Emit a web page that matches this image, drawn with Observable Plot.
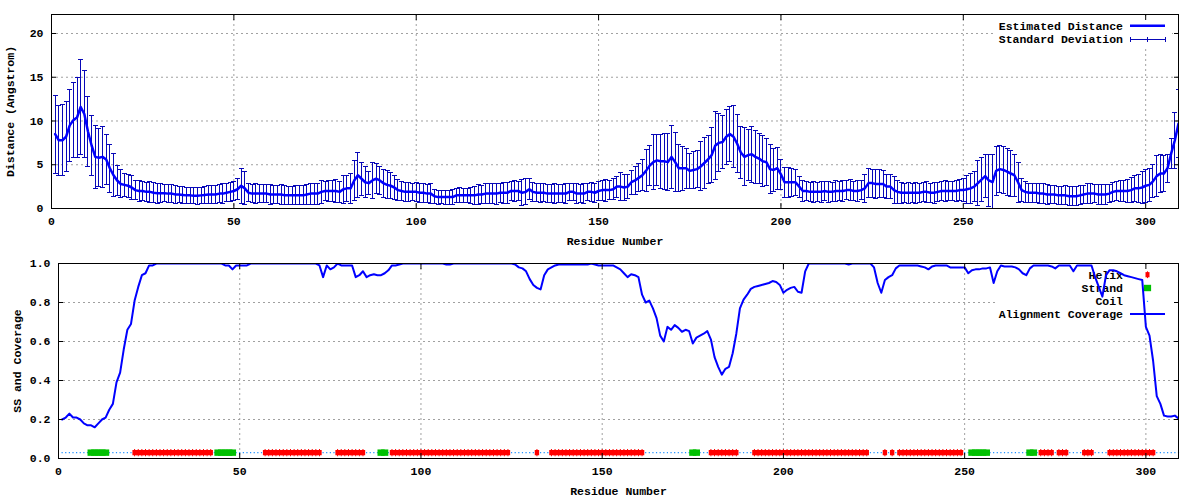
<!DOCTYPE html>
<html><head><meta charset="utf-8">
<script src="https://cdn.jsdelivr.net/npm/d3@7"></script>
<script src="https://cdn.jsdelivr.net/npm/@observablehq/plot@0.6"></script>
<style>
body{margin:0;background:#fff;}
#chart svg{display:block;}
</style></head><body><div id="chart"></div>
<script>
// ---------------- DATA ----------------
// Estimated distance (Angstrom) per residue 1..309
const dist = [
 8.5,7.8,7.8,8.2,9.5,10.1,10.4,11.6,10.8,8.8,
 7.2,5.9,5.8,5.9,5.6,4.6,3.8,3.2,2.8,2.7,
 2.6,2.4,2.1,2.0,2.0,1.9,1.9,1.8,1.75,1.75,
 1.75,1.7,1.7,1.6,1.6,1.55,1.5,1.5,1.45,1.45,
 1.5,1.55,1.6,1.6,1.6,1.7,1.7,1.8,1.9,2.0,
 2.2,2.6,2.3,1.8,1.7,1.7,1.7,1.7,1.7,1.6,
 1.6,1.6,1.6,1.5,1.5,1.5,1.5,1.5,1.5,1.6,
 1.7,1.7,1.7,1.9,2.0,2.0,2.0,2.0,1.9,2.2,
 2.3,2.3,3.2,3.8,3.4,3.0,2.9,3.2,3.4,3.2,
 2.9,2.7,2.6,2.4,2.1,2.0,1.9,1.9,1.9,1.9,
 1.8,1.8,1.7,1.7,1.4,1.3,1.3,1.3,1.3,1.3,
 1.5,1.5,1.5,1.5,1.5,1.5,1.6,1.6,1.7,1.7,
 1.7,1.7,1.8,1.8,1.8,2.0,2.0,2.0,1.8,1.9,
 2.2,1.9,1.8,1.8,1.8,1.7,1.7,1.7,1.7,1.7,
 1.7,1.9,1.9,1.7,1.7,1.7,1.9,1.9,1.8,2.0,
 2.1,2.1,2.1,2.2,2.5,2.5,2.4,2.5,3.0,3.2,
 3.5,3.8,4.3,4.9,5.3,5.5,5.4,5.4,5.3,5.9,
 5.3,4.6,4.6,4.6,4.3,4.4,4.5,4.8,5.2,5.6,
 6.1,7.2,7.5,7.6,8.2,8.5,8.2,7.4,6.4,5.9,
 6.1,6.2,5.9,5.7,5.4,5.3,4.5,4.4,4.6,3.9,
 3.0,3.0,3.0,3.0,2.5,2.0,2.0,1.9,1.9,1.9,
 1.9,2.0,1.9,1.9,2.0,2.0,2.0,2.1,2.1,2.0,
 2.0,2.1,2.3,2.9,2.9,2.8,2.8,2.8,2.5,2.5,
 2.1,1.9,1.8,1.8,1.8,1.8,1.8,1.8,1.9,1.9,
 1.8,1.8,1.9,2.0,2.0,2.0,2.0,2.0,2.1,2.1,
 2.2,2.3,2.5,2.9,3.3,3.7,3.2,3.0,4.3,4.5,
 4.4,4.2,4.0,3.8,3.0,2.1,1.9,1.8,1.8,1.8,
 1.7,1.7,1.6,1.6,1.6,1.5,1.5,1.5,1.4,1.4,
 1.4,1.5,1.6,1.7,1.7,1.7,1.6,1.6,1.6,1.7,
 1.9,2.0,2.0,2.0,2.0,2.1,2.3,2.3,2.4,2.6,
 2.7,3.1,3.7,4.0,4.0,4.6,6.3,7.8,9.7
];
// Standard deviation per residue
const stdev = [
 4.45,4.0,4.05,4.0,4.15,4.3,4.55,5.4,5.0,4.0,
 3.4,3.6,3.3,3.5,2.9,2.75,2.45,1.7,1.6,1.3,
 1.3,1.35,1.05,1.2,1.05,1.05,1.2,1.15,1.15,1.1,
 1.0,1.05,1.0,1.05,0.95,0.95,0.9,0.95,0.9,0.95,
 0.9,0.95,1.0,1.0,1.05,1.0,1.1,1.05,1.1,1.1,
 1.2,2.0,1.9,1.0,1.0,1.1,1.0,1.0,1.0,1.1,
 1.0,1.0,1.1,1.1,1.0,1.0,1.1,1.1,1.1,1.1,
 1.2,1.2,1.2,1.3,1.1,1.2,1.2,1.3,1.2,1.6,
 1.5,1.7,2.3,2.6,1.9,1.8,1.3,2.1,1.7,1.6,
 1.6,1.6,1.5,1.4,1.2,1.1,1.1,1.1,1.0,1.1,
 1.1,1.1,1.0,1.1,0.8,0.8,0.75,0.8,0.8,0.85,
 0.8,0.85,0.8,0.8,0.9,1.0,1.1,1.0,1.1,1.1,
 1.1,1.2,1.1,1.2,1.2,1.1,1.2,1.1,1.5,1.5,
 1.2,1.1,1.0,1.1,1.0,1.0,1.0,1.1,1.0,1.0,
 1.1,1.0,1.0,1.1,1.0,1.1,1.0,1.1,1.1,1.1,
 1.15,1.25,1.1,1.2,1.2,1.6,1.5,1.35,1.35,1.6,
 1.6,1.75,2.4,2.3,3.1,2.9,3.1,3.2,3.3,3.6,
 3.35,2.7,2.5,2.3,2.0,2.1,2.1,2.8,2.9,2.7,
 3.1,3.9,3.3,3.0,3.15,3.15,3.55,3.3,3.0,3.3,
 2.9,3.2,3.0,2.9,2.9,2.7,2.8,2.5,2.4,1.7,
 1.7,1.7,1.6,1.5,1.2,1.2,1.1,1.1,1.2,1.1,
 1.2,1.1,1.2,1.1,1.2,1.1,1.2,1.1,1.2,1.1,
 1.2,1.1,1.6,1.7,1.6,1.7,1.6,1.5,1.4,1.4,
 1.5,1.3,1.2,1.1,1.2,1.1,1.2,1.1,1.1,1.2,
 1.1,1.2,1.1,1.1,1.2,1.1,1.1,1.2,1.2,1.3,
 1.6,1.7,1.7,2.6,2.5,2.5,3.0,3.2,2.8,2.7,
 2.7,2.7,2.6,2.4,2.3,1.3,1.2,1.1,1.1,1.1,
 1.1,1.1,1.1,1.0,1.0,1.0,1.0,1.1,1.1,1.1,
 1.1,1.1,1.0,1.1,1.1,1.0,1.1,1.1,1.1,1.0,
 1.1,1.1,1.2,1.2,1.3,1.4,1.5,1.6,1.8,1.9,
 1.9,1.9,2.3,2.2,2.1,1.6,1.75,3.2,3.9
];
// Alignment coverage per residue
const coverage = [
 0.20,0.21,0.23,0.21,0.21,0.20,0.18,0.17,0.17,0.16,
 0.18,0.20,0.21,0.25,0.28,0.39,0.44,0.56,0.66,0.69,
 0.81,0.88,0.94,0.95,0.99,0.99,1.0,1.0,1.0,1.0,
 1.0,1.0,1.0,1.0,1.0,1.0,1.0,1.0,1.0,1.0,
 1.0,1.0,1.0,1.0,1.0,0.99,0.99,0.97,0.99,0.99,
 0.99,0.99,1.0,1.0,1.0,1.0,1.0,1.0,1.0,1.0,
 1.0,1.0,1.0,1.0,1.0,1.0,1.0,1.0,1.0,1.0,
 1.0,0.99,0.93,0.99,0.97,0.98,1.0,0.99,0.99,0.99,
 0.99,0.93,0.94,0.96,0.93,0.94,0.945,0.94,0.94,0.95,
 0.965,0.99,0.99,0.995,1.0,1.0,1.0,1.0,1.0,1.0,
 1.0,1.0,1.0,1.0,1.0,1.0,0.995,0.995,1.0,1.0,
 1.0,1.0,1.0,1.0,1.0,1.0,1.0,1.0,1.0,1.0,
 1.0,1.0,1.0,1.0,1.0,0.995,0.98,0.975,0.96,0.92,
 0.89,0.875,0.867,0.94,0.97,0.98,0.99,0.995,0.995,0.995,
 0.995,0.995,0.995,0.995,0.995,0.995,1.0,0.995,0.99,0.99,
 0.99,0.99,0.99,0.98,0.97,0.95,0.93,0.945,0.94,0.93,
 0.84,0.80,0.81,0.77,0.72,0.63,0.60,0.675,0.66,0.684,
 0.67,0.65,0.66,0.653,0.59,0.62,0.63,0.64,0.653,0.61,
 0.52,0.47,0.43,0.46,0.47,0.54,0.64,0.77,0.815,0.84,
 0.87,0.88,0.885,0.89,0.895,0.90,0.91,0.905,0.89,0.85,
 0.865,0.875,0.88,0.855,0.85,0.96,1.0,1.0,1.0,1.0,
 1.0,1.0,1.0,1.0,1.0,1.0,1.0,0.995,1.0,1.0,
 1.0,1.0,1.0,1.0,0.98,0.90,0.85,0.915,0.93,0.94,
 0.975,0.99,0.99,0.99,0.99,0.99,0.99,0.985,0.98,0.97,
 0.985,0.99,0.99,0.99,0.99,0.98,0.98,0.98,0.98,0.98,
 0.95,0.965,0.97,0.97,0.975,0.975,0.98,0.90,0.96,0.99,
 0.985,0.985,0.985,0.98,0.97,0.95,0.94,0.975,0.99,0.99,
 0.99,0.99,0.99,0.985,0.975,0.99,0.99,0.99,0.99,0.96,
 0.99,0.99,0.99,0.99,0.99,0.93,0.88,0.83,0.94,0.966,
 0.965,0.96,0.95,0.94,0.935,0.93,0.925,0.92,0.915,0.675,
 0.63,0.50,0.32,0.28,0.22,0.215,0.215,0.22,0.205
];
// Secondary structure segments [first residue, last residue]
const helixSegments = [[21,42],[57,72],[77,84],[92,124],[132,132],[136,161],[180,187],[192,223],[228,228],[230,230],[232,249],[271,274],[276,278],[283,285],[290,302]];
const strandSegments = [[9,13],[44,48],[89,90],[175,176],[252,256],[268,269]];
const ssLevel = 0.03;

// Axis ticks and texts
const xTicks = [0, 50, 100, 150, 200, 250, 300];
const yTicksTop = [0, 5, 10, 15, 20];
const yTicksBottom = [0, 0.2, 0.4, 0.6, 0.8, 1];
const xDomain = [0, 309];
const yDomainTop = [0, 22.17];
const yDomainBottom = [0, 1];
const xLabel = "Residue Number";
const yLabelTop = "Distance (Angstrom)";
const yLabelBottom = "SS and Coverage";
const legendTop = ["Estimated Distance", "Standard Deviation"];
const legendBottom = ["Helix", "Strand", "Coil", "Alignment Coverage"];

// ---------------- STYLE ----------------
const FONT = "'Liberation Mono','DejaVu Sans Mono',monospace";
const BLUE = "#0000ff", NAVY = "#0808b8", GRID = "#a0a0a0";
const RED = "#ff0000", GREEN = "#00c000", COIL = "#1e90ff";

const residues = dist.map((_, i) => i + 1);
const rows = residues.map((r, i) => ({r, d: dist[i], sd: stdev[i], cov: coverage[i]}));
const inSeg = (segs, r) => segs.some(([a, b]) => r >= a && r <= b);
const ssRows = residues.map(r => ({r, y: ssLevel, t: inSeg(helixSegments, r) ? "H" : inSeg(strandSegments, r) ? "E" : "C"}));

const capSymbol = {draw(ctx) { ctx.moveTo(-2.5, 0); ctx.lineTo(2.5, 0); }};
const helixSymbol = {draw(ctx) { ctx.rect(-2.2, -2.6, 4.4, 5.2); ctx.rect(-0.5, -3.6, 1, 7.2); }};
const strandSymbol = {draw(ctx) { ctx.rect(-3.6, -3.2, 7.2, 6.4); }};
const coilSymbol = {draw(ctx) { ctx.rect(-0.6, -0.6, 1.2, 1.2); }};

const baseStyle = {fontFamily: FONT, fontSize: "11.5px", fontWeight: "bold", color: "#000", background: "#fff"};
const gridOpts = {stroke: GRID, strokeOpacity: 1, strokeDasharray: "2,3"};

function axesMarks(yTicks, yLabel) {
  return [
    Plot.frame({stroke: "#000"}),
    Plot.axisX(xTicks, {anchor: "bottom", tickSize: 0, tickPadding: 8, label: xLabel, labelAnchor: "center", labelArrow: "none", labelOffset: 36}),
    Plot.axisX(xTicks, {anchor: "bottom", tickSize: -5, fill: "none", label: null}),
    Plot.axisX(xTicks, {anchor: "top", tickSize: -5, fill: "none", label: null}),
    Plot.axisY(yTicks, {anchor: "left", tickSize: 0, tickPadding: 8, label: yLabel, labelAnchor: "center", labelArrow: "none", labelOffset: 46}),
    Plot.axisY(yTicks, {anchor: "left", tickSize: -5, fill: "none", label: null}),
    Plot.axisY(yTicks, {anchor: "right", tickSize: -5, fill: "none", label: null})
  ];
}

function legendTopMark(index, scales, values, dims) {
  const g = d3.create("svg:g");
  const right = dims.width - dims.marginRight, t = dims.marginTop;
  g.append("rect").attr("x", right - 182).attr("y", t + 3).attr("width", 176).attr("height", 30).attr("fill", "#fff");
  const tx = right - 55, s1 = right - 48, s2 = right - 13, ys = [t + 11.7, t + 25];
  legendTop.forEach((s, i) => g.append("text").attr("x", tx).attr("y", ys[i]).attr("dy", "0.35em")
    .attr("text-anchor", "end").attr("fill", "#000").text(s));
  g.append("line").attr("x1", s1).attr("x2", s2).attr("y1", ys[0]).attr("y2", ys[0]).attr("stroke", BLUE).attr("stroke-width", 2.5);
  const e = g.append("g").attr("stroke", NAVY).attr("stroke-width", 1).attr("shape-rendering", "crispEdges");
  e.append("line").attr("x1", s1).attr("x2", s2).attr("y1", ys[1]).attr("y2", ys[1]);
  [s1, (s1 + s2) / 2, s2].forEach(x => e.append("line").attr("x1", x).attr("x2", x).attr("y1", ys[1] - 2.5).attr("y2", ys[1] + 2.5));
  return g.node();
}

function legendBottomMark(index, scales, values, dims) {
  const g = d3.create("svg:g");
  const right = dims.width - dims.marginRight, t = dims.marginTop;
  g.append("rect").attr("x", right - 182).attr("y", t + 3).attr("width", 178).attr("height", 56).attr("fill", "#fff");
  const tx = right - 55, s1 = right - 48, s2 = right - 13, sc = right - 30.5;
  const ys = [t + 11.7, t + 25, t + 38.4, t + 51];
  legendBottom.forEach((s, i) => g.append("text").attr("x", tx).attr("y", ys[i]).attr("dy", "0.35em")
    .attr("text-anchor", "end").attr("fill", "#000").text(s));
  g.append("rect").attr("x", sc - 2).attr("y", ys[0] - 2.6).attr("width", 4).attr("height", 5.2).attr("fill", RED);
  g.append("rect").attr("x", sc - 0.5).attr("y", ys[0] - 3.4).attr("width", 1).attr("height", 6.8).attr("fill", RED);
  g.append("rect").attr("x", sc - 3.6).attr("y", ys[1] - 3.2).attr("width", 7.2).attr("height", 6.4).attr("fill", GREEN);
  g.append("rect").attr("x", sc - 0.6).attr("y", ys[2] - 0.6).attr("width", 1.2).attr("height", 1.2).attr("fill", COIL);
  g.append("line").attr("x1", s1).attr("x2", s2).attr("y1", ys[3]).attr("y2", ys[3]).attr("stroke", BLUE).attr("stroke-width", 2);
  return g.node();
}

const topChart = Plot.plot({
  width: 1200, height: 250,
  marginLeft: 51, marginRight: 22, marginTop: 14, marginBottom: 42,
  style: baseStyle,
  x: {domain: xDomain, axis: null},
  y: {domain: yDomainTop, axis: null},
  marks: [
    Plot.gridX(xTicks, gridOpts),
    Plot.gridY(yTicksTop, gridOpts),
    legendTopMark,
    Plot.ruleX(rows, {x: "r", y1: d => d.d - d.sd, y2: d => d.d + d.sd, stroke: NAVY, strokeWidth: 1, shapeRendering: "crispEdges", clip: true}),
    Plot.dot(rows, {x: "r", y: d => d.d + d.sd, symbol: capSymbol, stroke: NAVY, fill: "none", strokeWidth: 1, shapeRendering: "crispEdges", clip: true}),
    Plot.dot(rows, {x: "r", y: d => d.d - d.sd, symbol: capSymbol, stroke: NAVY, fill: "none", strokeWidth: 1, shapeRendering: "crispEdges", clip: true}),
    Plot.line(rows, {x: "r", y: "d", stroke: BLUE, strokeWidth: 2.5, clip: true}),
    ...axesMarks(yTicksTop, yLabelTop)
  ]
});

const bottomChart = Plot.plot({
  width: 1200, height: 250,
  marginLeft: 58, marginRight: 22, marginTop: 13, marginBottom: 42,
  style: baseStyle,
  x: {domain: xDomain, axis: null},
  y: {domain: yDomainBottom, axis: null},
  marks: [
    Plot.gridX(xTicks, gridOpts),
    Plot.gridY(yTicksBottom, gridOpts),
    legendBottomMark,
    Plot.dot(ssRows.filter(d => d.t === "C"), {x: "r", y: "y", symbol: coilSymbol, fill: COIL, stroke: "none"}),
    Plot.dot(ssRows.filter(d => d.t === "H"), {x: "r", y: "y", symbol: helixSymbol, fill: RED, stroke: "none"}),
    Plot.dot(ssRows.filter(d => d.t === "E"), {x: "r", y: "y", symbol: strandSymbol, fill: GREEN, stroke: "none"}),
    Plot.line(rows, {x: "r", y: "cov", stroke: BLUE, strokeWidth: 2, clip: true}),
    ...axesMarks(yTicksBottom, yLabelBottom)
  ]
});

const root = document.getElementById("chart");
root.append(topChart, bottomChart);
</script></body></html>
